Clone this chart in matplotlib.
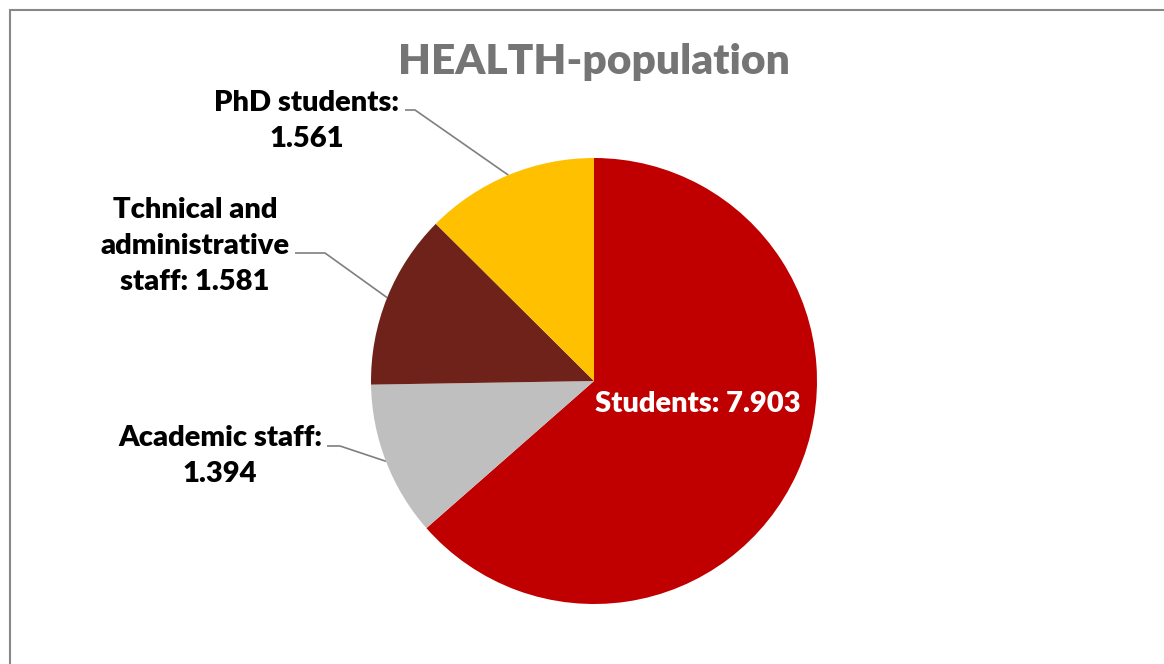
import numpy as np
import matplotlib
matplotlib.use('Agg')
import matplotlib.pyplot as plt
from matplotlib.patches import Rectangle

# Data
labels = ['Students', 'Academic staff', 'Tchnical and\nadministrative\nstaff', 'PhD students']
values = [7.903, 1.394, 1.581, 1.561]
value_text = ['7.903', '1.394', '1.581', '1.561']
colors = ['#C00000', '#BFBFBF', '#6F2219', '#FFC000']

plt.rcParams['font.family'] = ['Lato', 'DejaVu Sans']

W, H = 1164, 664
fig = plt.figure(figsize=(W / 100, H / 100), dpi=100, facecolor='white')
ax = fig.add_axes([0, 0, 1, 1])

cx, cy, r = 594, H - 381, 223
wedges, _ = ax.pie(values, colors=colors, startangle=90, counterclock=False,
                   center=(cx, cy), radius=r, frame=True,
                   wedgeprops=dict(linewidth=0))
ax.set_xlim(0, W)
ax.set_ylim(0, H)
ax.set_aspect('equal')
ax.axis('off')

# chart frame (cut off at right and bottom)
ax.add_patch(Rectangle((10, -20), 1300, H - 10 + 20, fill=False,
                       edgecolor='#888888', linewidth=1.5))

ax.text(594, H - 62, 'HEALTH-population', ha='center', va='center',
        fontsize=30.5, fontweight='heavy', color='#757575')

# Students label inside
ax.text(698, H - 404, labels[0] + ': ' + value_text[0], ha='center', va='center',
        fontsize=21, fontweight='heavy', color='white')

# outside labels: (text center x, y), leader start x, leader elbow x, leader y
outside = {
    3: ((307, 121), 405, 415, 110),
    2: ((195, 246), 295, 325, 253),
    1: ((220, 456), 327, 340, 446),
}
for i, ((tx, ty), x0, x1, ly) in outside.items():
    if i == 2:
        s = labels[i] + ': ' + value_text[i]
    else:
        s = labels[i] + ':\n' + value_text[i]
    ax.text(tx, H - ty, s, ha='center', va='center', fontsize=21,
            fontweight='heavy', color='black', linespacing=1.5)
    w = wedges[i]
    mid = np.deg2rad((w.theta1 + w.theta2) / 2)
    ex, ey = cx + r * np.cos(mid), cy + r * np.sin(mid)
    ax.plot([x0, x1, ex], [H - ly, H - ly, ey], color='#7F7F7F', lw=1.2,
            solid_capstyle='butt', zorder=0)

fig.savefig('out.png', dpi=100, facecolor='white')
